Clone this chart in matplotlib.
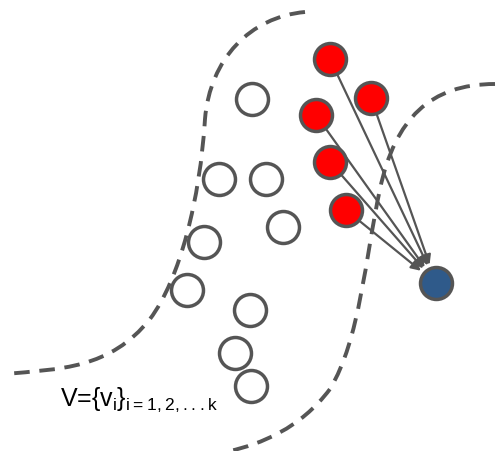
import matplotlib
matplotlib.use("Agg")
import matplotlib.pyplot as plt
from matplotlib.path import Path
from matplotlib.patches import PathPatch

# node centres in picture pixels
hollow_x = [252, 219, 266, 283, 204, 187, 250, 235, 251]
hollow_y = [100, 180, 180, 228, 243, 291, 311, 354, 387]
red_x = [330, 371, 316, 330, 346]
red_y = [60, 99, 116, 163, 211]
target = (436, 284)

# boundary curves (cubic bezier control points)
left_curve = [(305, 13), (250, 18), (210, 60), (205, 120),
              (200, 200), (180, 280), (150, 320),
              (110, 370), (60, 370), (5, 375)]
right_curve = [(495, 85), (430, 85), (395, 120), (380, 190),
               (365, 260), (360, 340), (330, 390),
               (300, 430), (260, 445), (230, 452)]

fig = plt.figure(figsize=(5, 4.52), dpi=100)
ax = fig.add_axes([0, 0, 1, 1])
ax.set_xlim(0, 500)
ax.set_ylim(452, 0)
ax.axis("off")

for pts in (left_curve, right_curve):
    codes = [Path.MOVETO] + [Path.CURVE4] * (len(pts) - 1)
    ax.add_patch(PathPatch(Path(pts, codes), fill=False, edgecolor="#555555",
                           lw=2.8, linestyle=(0, (4, 2.5))))

for x, y in zip(red_x, red_y):
    ax.annotate("", xy=target, xytext=(x, y),
                arrowprops=dict(arrowstyle="-|>", color="#555555", lw=1.6,
                                shrinkA=12, shrinkB=14, mutation_scale=14))

ax.scatter(hollow_x, hollow_y, s=530, facecolor="white", edgecolor="#555555",
           linewidth=2.5, zorder=3)
ax.scatter(red_x, red_y, s=530, facecolor="#ff0000", edgecolor="#555555",
           linewidth=2.5, zorder=3)
ax.scatter([target[0]], [target[1]], s=530, facecolor="#2f5a8a",
           edgecolor="#555555", linewidth=2.5, zorder=3)

ax.text(60, 400, r"V={v$_\mathregular{i}$}$_\mathregular{i=1,2,...k}$",
        fontsize=18, family="Liberation Sans", va="center")

fig.savefig("out.png")
